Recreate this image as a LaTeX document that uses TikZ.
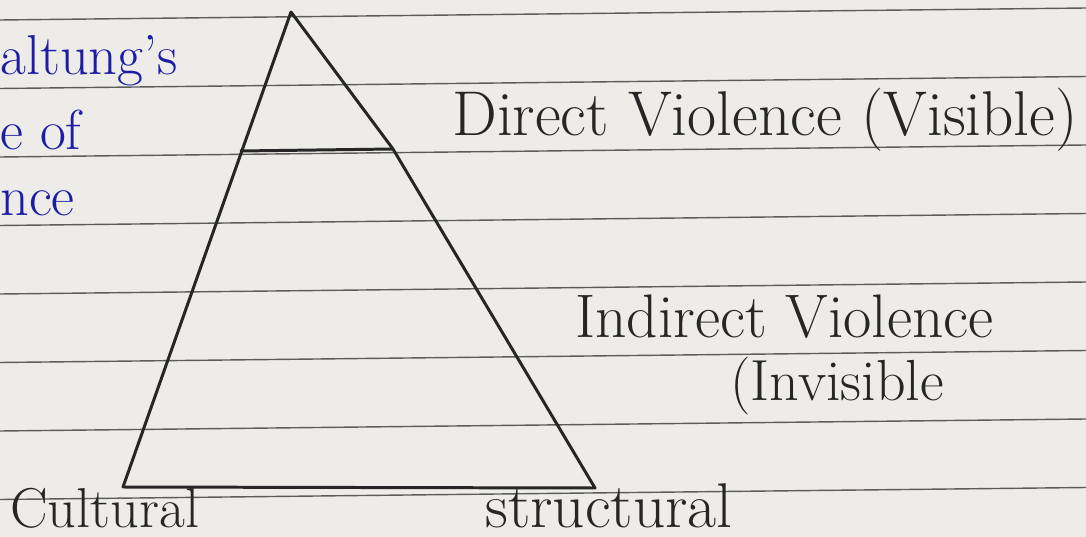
\documentclass[tikz,border=0pt]{standalone}
\usepackage{xcolor}
\usepackage{tikz}
\usetikzlibrary{calc,positioning}

\definecolor{paper}{HTML}{EDECE8}
\definecolor{ruling}{HTML}{5C5C5C}
\definecolor{pencil}{HTML}{262626}
\definecolor{ink}{HTML}{1C1CA4}

\begin{document}
\begin{tikzpicture}[
    x=0.02cm, y=-0.02cm,
    every node/.style={inner sep=0pt, anchor=base west},
    hand/.style={pencil, font=\fontsize{35}{37}\selectfont},
    blue/.style={ink, font=\fontsize{32}{34}\selectfont}
]

% Paper
\fill[paper] (0,0) rectangle (1086,537);
\useasboundingbox (0,0) rectangle (1086,537);

% Ruled lines
\foreach \k in {0,...,7}
    \draw[ruling, line width=0.8pt]
        (0,{20+68.5*\k}) -- (1086,{8+68.5*\k});

% Triangle
\coordinate (apex) at (291,12);
\coordinate (left) at (123,487);
\coordinate (right) at (595,488);
\coordinate (cutL) at (240,151);
\coordinate (cutR) at (393,149);

\draw[pencil, line width=1.7pt, line join=round]
    (apex) -- (left) -- (right) -- (cutR) -- cycle;

% Top layer
\draw[pencil, line width=1.7pt] (cutL) -- (cutR);

% Title
\node[blue] (t1) at (0,75) {altung's};
\node[blue] (t2) at (0,150) {e of};
\node[blue] (t3) at (0,215) {nce};

% Layers
\node[hand, font=\fontsize{36}{38}\selectfont] (direct) at (452,135)
    {Direct Violence (Visible)};
\node[hand] (indirect) at (575,337) {Indirect Violence};
\node[hand, font=\fontsize{33}{35}\selectfont] (invisible) at (730,400)
    {(Invisible};

% Base
\node[hand, font=\fontsize{32}{34}\selectfont] (cult) at (10,527) {Cultural};
\node[hand, font=\fontsize{36}{38}\selectfont] (struct) at (485,527) {structural};

\end{tikzpicture}
\end{document}
